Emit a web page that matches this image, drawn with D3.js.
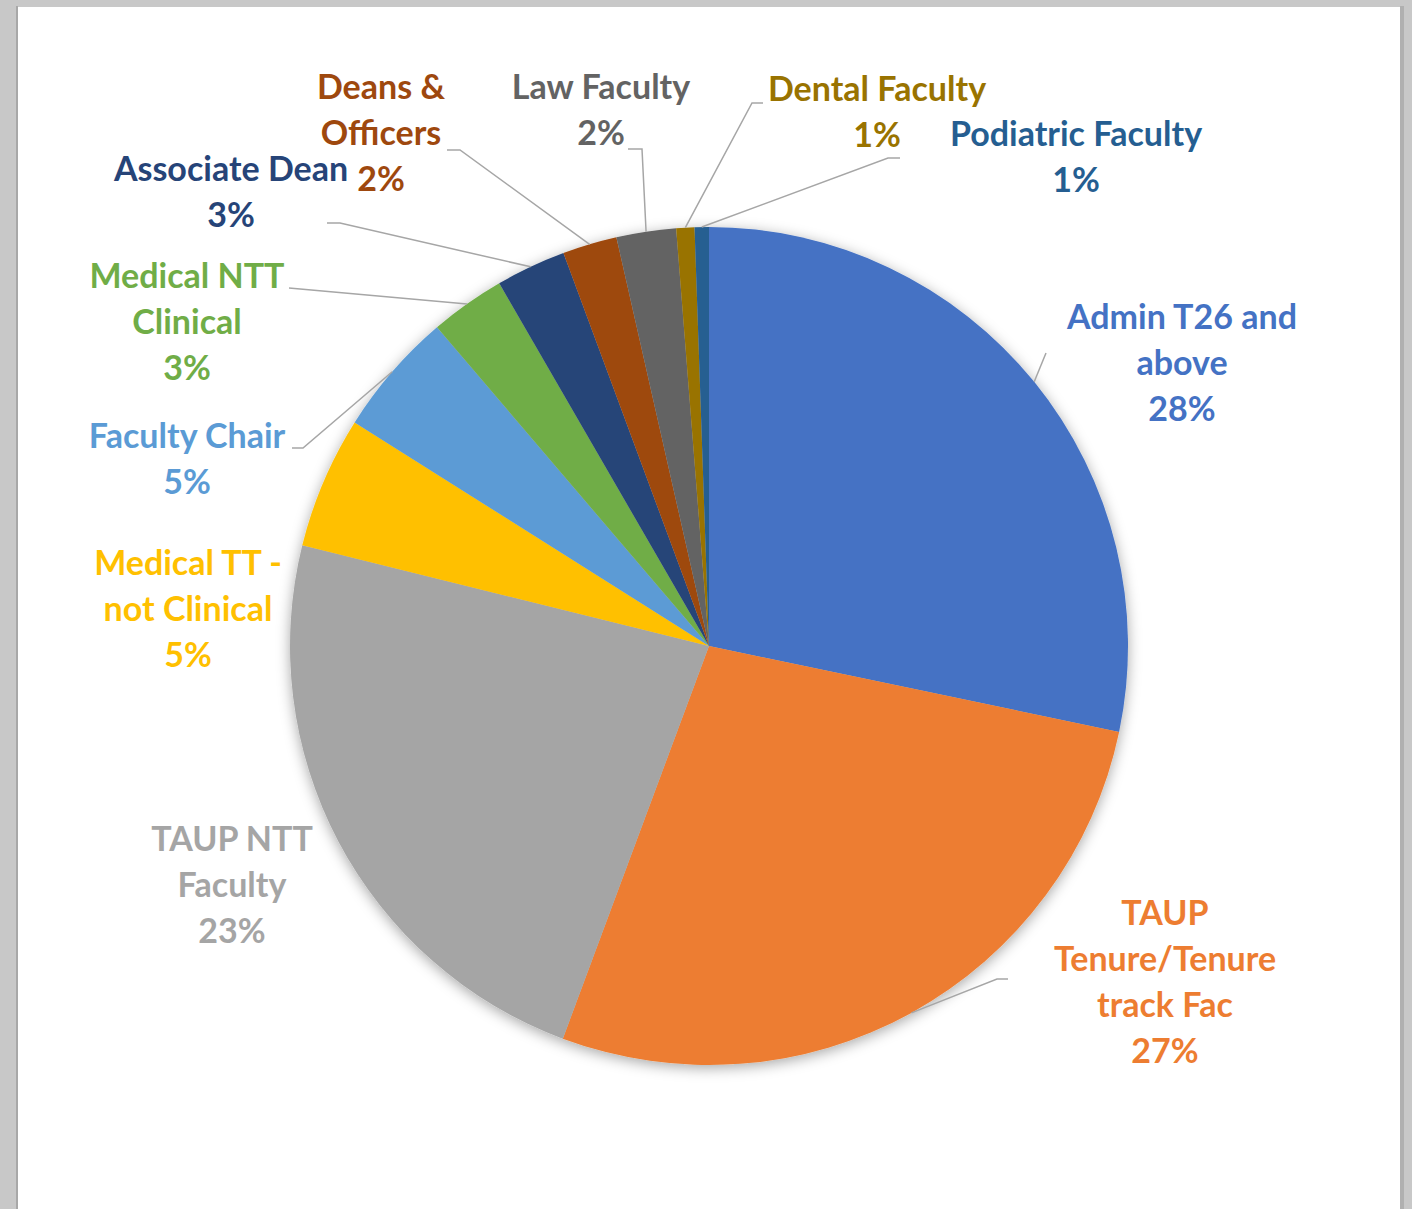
<!DOCTYPE html>
<html>
<head>
<meta charset="utf-8">
<script src="https://cdn.jsdelivr.net/npm/d3@7/dist/d3.min.js"></script>
<style>
  html, body { margin: 0; padding: 0; background: #c8c8c8; }
  svg { display: block; }
</style>
</head>
<body>
<svg id="chart" width="1412" height="1209"></svg>
<script>
// ---- data ----
const categories = [
  "Admin T26 and above", "TAUP Tenure/Tenure track Fac", "TAUP NTT Faculty",
  "Medical TT - not Clinical", "Faculty Chair", "Medical NTT Clinical",
  "Associate Dean", "Deans & Officers", "Law Faculty", "Dental Faculty", "Podiatric Faculty"
];
const values = [28.3, 27.4, 23.2, 5.1, 4.8, 2.9, 2.7, 2.1, 2.3, 0.7, 0.55];
const labelLines = [
  ["Admin T26 and", "above"],
  ["TAUP", "Tenure/Tenure", "track Fac"],
  ["TAUP NTT", "Faculty"],
  ["Medical TT -", "not Clinical"],
  ["Faculty Chair"],
  ["Medical NTT", "Clinical"],
  ["Associate Dean"],
  ["Deans &", "Officers"],
  ["Law Faculty"],
  ["Dental Faculty"],
  ["Podiatric Faculty"]
];

// ---- styles / layout ----
const colors = ["#4472C4", "#ED7D31", "#A5A5A5", "#FFC000", "#5B9BD5", "#70AD47",
                "#264478", "#9E480E", "#636363", "#997300", "#255E91"];
const labelPos = [
  [1182, 317], [1165, 913], [232, 839], [188, 563], [187, 436], [187, 276],
  [231, 169], [381, 87], [601, 87], [877, 89], [1076, 134]
];
const leaderPts = [
  [[1046, 353]],
  [[997, 979], [1008, 979]],
  null,
  null,
  [[303, 448], [292, 448]],
  [[289, 288]],
  [[340, 223], [327, 223]],
  [[460, 150], [447, 150]],
  [[642, 149], [628, 149]],
  [[752, 103], [763, 103]],
  [[888, 158], [900, 158]]
];

const W = 1412, H = 1209;
const cx = 709, cy = 646, R = 419;
const fontSize = 34, lineH = 46;

const svg = d3.select("#chart");

// page
svg.append("rect").attr("x", 0).attr("y", 0).attr("width", W).attr("height", H).attr("fill", "#c8c8c8");
svg.append("rect").attr("x", 1400).attr("y", 6).attr("width", 4).attr("height", H).attr("fill", "#b0b0b0");
svg.append("rect").attr("x", 16).attr("y", 6).attr("width", 2).attr("height", H).attr("fill", "#a8a8a8");
svg.append("rect").attr("x", 18).attr("y", 7).attr("width", 1382).attr("height", H).attr("fill", "#ffffff");

const defs = svg.append("defs");
const f = defs.append("filter").attr("id", "shadow").attr("x", "-10%").attr("y", "-10%").attr("width", "120%").attr("height", "120%");
f.append("feDropShadow").attr("dx", 0).attr("dy", 3).attr("stdDeviation", 7)
  .attr("flood-color", "#000").attr("flood-opacity", 0.35);

const total = d3.sum(values);
const data = categories.map((c, i) => ({ name: c, value: values[i], i }));
const pie = d3.pie().value(d => d.value).sort(null).startAngle(0).endAngle(2 * Math.PI);
const arcs = pie(data);
const arc = d3.arc().innerRadius(0).outerRadius(R);

const g = svg.append("g").attr("transform", `translate(${cx},${cy})`);
g.append("g").attr("filter", "url(#shadow)")
  .selectAll("path").data(arcs).join("path")
  .attr("d", arc)
  .attr("fill", d => colors[d.data.i]);

// leader lines
const edge = d => {
  const a = (d.startAngle + d.endAngle) / 2;
  return [cx + R * Math.sin(a), cy - R * Math.cos(a)];
};
svg.append("g").selectAll("polyline").data(arcs.filter(d => leaderPts[d.data.i])).join("polyline")
  .attr("points", d => [edge(d)].concat(leaderPts[d.data.i]).map(p => p.join(",")).join(" "))
  .attr("fill", "none").attr("stroke", "#a6a6a6").attr("stroke-width", 1.5);

// labels
const pct = d3.format(".0%");
const lbl = svg.append("g").attr("font-family", "Lato, 'Open Sans', sans-serif")
  .attr("font-weight", 700).attr("font-size", fontSize).attr("text-anchor", "middle");
arcs.forEach(d => {
  const i = d.data.i;
  const lines = labelLines[i].concat([pct(d.data.value / total)]);
  const t = lbl.append("text").attr("fill", colors[i]);
  lines.forEach((s, k) => {
    t.append("tspan").attr("x", labelPos[i][0]).attr("y", labelPos[i][1] + k * lineH)
      .attr("dy", "0.36em").text(s);
  });
});
</script>
</body>
</html>
